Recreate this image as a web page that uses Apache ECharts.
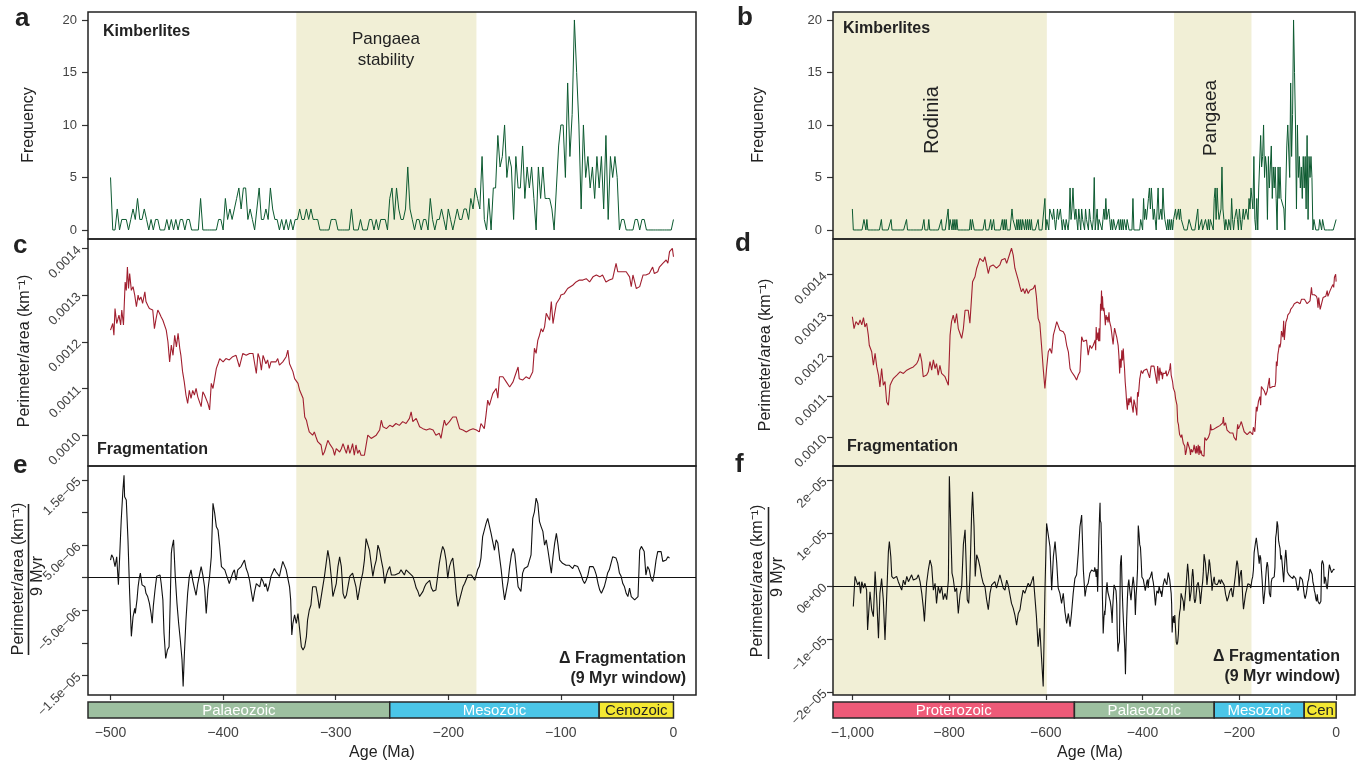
<!DOCTYPE html>
<html>
<head>
<meta charset="utf-8">
<title>Kimberlites and continental fragmentation</title>
<script src="https://cdn.jsdelivr.net/npm/echarts@6.0.0/dist/echarts.min.js"></script>
<style>
  html, body { margin: 0; padding: 0; background: #fff; }
  #chart { width: 1364px; height: 766px; }
</style>
</head>
<body>
<div id="chart"></div>
<script>
// kimberlite counts in 2 Myr bins, -1000 .. -502 Ma
var kimbOld = [
  2,0,0,0,0,0,0,0,0,0,  0,0,1,1,0,1,0,0,0,0,  0,0,0,0,0,0,0,0,0,0,  1,0,0,0,0,0,0,0,0,0,
  1,0,0,0,0,0,0,0,0,0,  0,0,0,0,0,0,1,0,0,0,  0,0,0,0,0,0,0,0,0,0,  0,0,0,0,1,0,0,0,0,1,
  0,0,0,0,0,0,0,0,0,0,  0,0,1,0,0,0,0,0,0,2,  0,1,1,0,1,0,1,0,1,0,  0,0,0,0,0,0,0,0,0,0,
  0,0,1,0,1,1,0,0,0,0,  0,0,0,0,0,0,0,1,0,0,  0,0,0,1,0,0,1,0,0,0,  0,0,0,0,0,1,0,1,0,1,
  0,0,0,0,0,2,1,1,1,0,  1,0,1,0,1,0,1,1,0,1,  0,1,0,1,0,1,0,0,0,0,  0,0,1,0,0,0,0,0,0,3,
  0,1,1,0,2,2,2,1,2,1,  0,1,2,1,1,2,1,0,1,1,  0,1,1,0,1,4,1,2,4,2,  1,2,1,0,2,1,0,2,1,1,
  0,2,1,1,0,2,1,1,0,1
];
// kimberlite counts in 2 Myr bins, -500 .. 0 Ma
var kimbYoung = [
  5,0,0,2,0,1,1,1,0,1,  2,1,3,1,1,2,1,0,1,0,  1,1,0,0,0,1,0,1,0,1,  0,1,1,0,1,1,0,0,0,0,
  3,0,0,0,0,0,0,0,1,1,  0,3,1,2,1,2,3,4,2,4,  4,1,2,1,0,2,4,1,1,2,  1,4,2,1,1,0,1,0,1,0,
  1,0,1,1,2,1,1,2,1,2,  1,1,1,0,0,0,0,0,1,1,  1,0,0,0,0,0,0,2,0,0,  0,1,0,0,0,1,1,0,1,0,
  1,1,1,0,3,4,1,4,2,1,  1,2,6,2,1,0,1,1,0,1,  1,0,3,1,0,1,1,2,1,0,  2,1,0,1,2,1,1,2,2,1,
  3,2,4,3,2,7,1,0,3,0,  4,4,9,6,7,10,5,7,6,1,  7,4,4,8,3,6,4,6,3,0,  6,3,6,3,3,3,2,0,4,8,
  10,10,5,14,7,11,20,15,10,2,  10,5,7,4,6,3,7,4,7,2,  9,1,7,5,7,5,0,1,1,0,  0,0,0,1,1,0,1,1,0,0,
  0,0,0,0,0,0,0,0,0,0,  1
];

// fragmentation, perimeter/area in units of 1e-4 km^-1, [age Ma, value]
var fragOld = [
  [-1000,12.96],[-996.5,12.67],[-992.5,12.84],[-987.5,12.76],[-984,12.88],[-980.5,12.76],[-977,12.94],[-974,12.71],
  [-970.5,12.80],[-967,12.51],[-965,12.26],[-962,12.26],[-960,12.10],[-956.5,11.77],[-953,12.06],[-949.5,11.73],
  [-946,11.53],[-943,11.24],[-939.5,11.69],[-936,11.28],[-932.5,11.37],[-929,10.87],[-925.5,10.79],[-922,11.28],
  [-918.5,11.37],[-915,11.45],[-908,11.53],[-901.5,11.61],[-894.5,11.57],[-887.5,11.65],[-881,11.69],[-874,11.73],
  [-867,11.81],[-863.5,11.90],[-860,12.06],[-856.5,11.86],[-853.5,11.49],[-850,11.53],[-846.5,11.53],[-843,11.61],
  [-839.5,11.86],[-836,11.65],[-832.5,11.90],[-829,11.69],[-826,11.81],[-822.5,11.53],[-819,11.77],[-815.5,11.57],
  [-812,11.61],[-808.5,11.49],[-805,11.53],[-801.5,11.28],[-798,12.51],[-795,12.84],[-791.5,13.00],[-788,12.80],
  [-784.5,13.04],[-781,12.67],[-777.5,12.55],[-774,12.43],[-770.5,12.67],[-767,13.12],[-764,13.08],[-760.5,13.12],
  [-757,12.80],[-753.5,12.80],[-751.5,13.82],[-746.5,13.94],[-743,14.15],[-739.5,14.27],[-736.5,14.39],[-733,14.43],
  [-729.5,14.31],[-726,14.43],[-722.5,14.23],[-719,14.02],[-715.5,14.19],[-709,14.23],[-702,14.15],[-695,14.23],
  [-691.5,14.35],[-688,14.31],[-684.5,14.39],[-681,14.27],[-674.5,14.51],[-671,14.64],[-667.5,14.47],[-664,14.15],
  [-660.5,14.19],[-657,13.86],[-653.5,13.69],[-650.5,13.57],[-647,13.65],[-643.5,13.53],[-640,13.65],[-636.5,13.53],
  [-633,13.61],[-629.5,13.57],[-626,13.65],[-622.5,13.74],[-619.5,13.45],[-616,12.92],[-612.5,12.80],[-609,12.26],
  [-605.5,11.69],[-602,11.20],[-598.5,11.69],[-595,12.10],[-591.5,12.18],[-588,12.06],[-584.5,12.51],[-581,12.67],
  [-577.5,12.84],[-574.5,12.88],[-571,12.63],[-564,12.59],[-560.5,12.51],[-557,12.26],[-553.5,12.10],[-550,11.69],
  [-547,11.61],[-543.5,11.57],[-540,11.49],[-536.5,11.41],[-533,11.53],[-529.5,11.61],[-526,12.47],[-522.5,12.35],
  [-519,12.31],[-516,12.39],[-512.5,12.02],[-509,12.26],[-505.5,12.18],[-502,12.26]
];
var fragYoung = [
  [-500,12.25],[-498,12.39],[-497,12.14],[-496,12.71],[-494.5,12.39],[-492.5,12.57],[-491,12.36],[-490,12.68],
  [-488.5,12.36],[-487,13.28],[-486,13.10],[-485,13.60],[-484,13.14],[-483,13.46],[-481.5,13.10],[-480,13.18],
  [-478.5,13.00],[-477,12.75],[-475.5,13.00],[-474.5,12.89],[-473,12.96],[-471.5,12.82],[-469.5,13.07],[-468.5,12.86],
  [-467,12.78],[-465.5,12.71],[-464,12.75],[-462.5,12.68],[-461,12.28],[-459.5,12.50],[-458,12.68],[-456.5,12.61],
  [-455,12.53],[-453.5,12.46],[-452,12.50],[-450.5,12.25],[-449,12.00],[-447.5,11.57],[-446,11.93],[-444.5,11.71],
  [-443,12.14],[-441.5,11.89],[-440,12.18],[-438.5,11.86],[-437.5,11.71],[-436,11.36],[-434.5,11.14],[-433,10.86],
  [-431.5,10.68],[-430,10.96],[-428.5,10.79],[-427,10.96],[-425.5,10.86],[-424,11.00],[-422.5,10.82],[-421,10.79],
  [-419.5,10.61],[-418,10.93],[-416.5,10.86],[-415,10.89],[-413.5,10.68],[-412,10.54],[-410.5,11.11],[-409,11.00],
  [-407.5,11.21],[-406,11.43],[-404.5,11.53],[-403,11.64],[-400,11.57],[-397.5,11.64],[-394.5,11.61],[-391.5,11.68],
  [-388.5,11.71],[-385.5,11.46],[-382.5,11.75],[-379.5,11.71],[-376.5,11.75],[-373.5,11.75],[-370.5,11.32],[-369,11.75],
  [-367.5,11.64],[-366,11.39],[-364.5,11.71],[-362,11.53],[-360.5,11.61],[-359,11.43],[-357.5,11.57],[-356,11.57],
  [-353,11.57],[-351.5,11.64],[-350,11.50],[-347,11.57],[-345.5,11.61],[-344,11.68],[-342.5,11.82],[-341,11.53],
  [-339.5,11.50],[-338,11.36],[-336.5,11.21],[-335,11.18],[-333.5,11.11],[-332,10.96],[-330.5,10.93],[-329,10.79],
  [-327.5,10.39],[-326,10.32],[-325,10.21],[-323.5,10.07],[-322,10.11],[-320.5,10.00],[-319,10.07],[-317.5,9.96],
  [-316,9.86],[-314.5,9.89],[-313,9.79],[-311.5,9.57],[-310,9.64],[-308.5,9.68],[-307,9.89],[-305.5,9.82],
  [-304,9.86],[-302.5,9.71],[-301,9.57],[-299.5,9.71],[-298,9.71],[-296.5,9.64],[-295,9.71],[-293.5,9.82],
  [-292,9.71],[-290.5,9.61],[-289,9.79],[-287.5,9.61],[-286.5,9.68],[-285,9.82],[-283.5,9.57],[-282,9.79],
  [-280.5,9.61],[-279,9.68],[-277.5,9.57],[-276,9.54],[-274.5,9.57],[-273,9.54],[-271.5,10.00],[-270,10.04],
  [-268.5,9.93],[-267,9.96],[-264,10.00],[-261,10.11],[-259.5,10.32],[-258,10.18],[-255,10.14],[-252,10.21],
  [-249.5,10.18],[-246.5,10.25],[-243.5,10.21],[-240.5,10.29],[-237.5,10.25],[-234.5,10.36],[-233,10.50],[-231.5,10.29],
  [-228.5,10.36],[-225.5,10.18],[-222.5,10.14],[-219.5,10.11],[-216.5,10.14],[-213.5,10.11],[-211,10.00],[-208,10.04],
  [-206.5,9.93],[-205,10.14],[-203.5,10.32],[-202,10.21],[-199,10.29],[-196,10.39],[-194.5,10.43],[-193,10.39],
  [-190,10.14],[-187,10.11],[-184,10.07],[-181,10.11],[-178,10.14],[-175,10.11],[-172.5,10.07],[-171,10.25],
  [-169.5,10.21],[-168,10.14],[-166.5,10.43],[-165,10.75],[-163.5,10.64],[-160.5,10.89],[-157.5,11.00],[-156,10.79],
  [-154.5,11.25],[-153,11.28],[-151.5,11.25],[-148.5,11.14],[-145.5,11.03],[-142.5,11.14],[-141,11.25],[-139.5,11.25],
  [-138,11.46],[-137,11.21],[-135.5,11.25],[-134,11.18],[-131,11.25],[-128,11.21],[-126.5,11.25],[-125,11.36],
  [-123.5,11.86],[-122,11.75],[-120.5,12.03],[-119,12.14],[-117.5,12.28],[-116,12.21],[-114.5,12.32],[-113,12.61],
  [-111.5,12.64],[-110,12.46],[-108.5,12.86],[-107,12.39],[-105.5,12.61],[-104,12.82],[-102.5,12.86],[-101,12.93],
  [-100,13.00],[-98.5,12.96],[-97,13.03],[-95.5,13.07],[-94,13.14],[-92.5,13.10],[-89.5,13.21],[-86.5,13.28],
  [-83.5,13.32],[-80.5,13.32],[-77.5,13.35],[-74.5,13.28],[-71.5,13.39],[-68.5,13.43],[-65.5,13.39],[-63,13.43],
  [-60,13.28],[-57,13.32],[-54,13.35],[-51,13.68],[-49.5,13.50],[-48,13.53],[-45,13.50],[-42,13.50],
  [-40.5,13.46],[-39,13.39],[-37.5,13.18],[-36,13.43],[-33,13.14],[-31.5,13.10],[-30,13.18],[-27,13.43],
  [-24.5,13.43],[-21.5,13.46],[-18.5,13.60],[-17,13.46],[-15.5,13.43],[-14,13.50],[-12.5,13.60],[-9.5,13.68],
  [-6.5,13.75],[-5,13.68],[-3.5,13.93],[-1,14.00],[0,13.82]
];

// change of fragmentation over a 9 Myr window, units of 1e-6 km^-1, [age Ma, value]
var dFragOld = [
  [-998,-3.9],[-994.5,1.8],[-992.5,1.8],[-989,0.2],[-985.5,0.8],[-983,-1.4],[-980.5,0.8],[-977,-0.4],
  [-974,0.5],[-970.5,-0.8],[-968.5,-8.3],[-965.5,-8.6],[-963.5,-1.1],[-960,-4.5],[-956.5,-5.8],[-953,2.7],
  [-949.5,-2.6],[-946,-9.9],[-943,-1.4],[-939.5,1.4],[-936,-2.6],[-932.5,-10.2],[-929,-2.0],[-925.5,6.5],
  [-923.5,8.4],[-920.5,5.5],[-918.5,1.8],[-915,1.4],[-912,1.1],[-908.5,1.8],[-905,0.8],[-901.5,1.1],
  [-898,-0.8],[-894.5,1.1],[-891,0.2],[-887.5,1.8],[-884,0.8],[-881,1.1],[-877.5,2.1],[-874,1.1],
  [-870.5,1.1],[-867,1.4],[-863.5,2.1],[-860,0.8],[-856.5,-1.4],[-853.5,-3.9],[-851,-6.7],[-848.5,-2.6],
  [-846.5,0.5],[-843,3.0],[-839.5,4.9],[-836,3.7],[-832.5,-0.8],[-829,0.5],[-826,-3.3],[-822.5,-0.1],
  [-819,-1.4],[-815.5,-0.1],[-812,-2.6],[-808.5,-1.4],[-805,-2.6],[-801.5,1.1],[-799.5,20.7],[-797,12.5],
  [-794,2.4],[-791.5,1.4],[-788,-1.1],[-784.5,-0.4],[-781,-5.2],[-777.5,-1.7],[-774,-0.1],[-770.5,7.8],
  [-767,10.6],[-765,4.9],[-762.5,-2.6],[-759.5,-3.3],[-757,1.4],[-753.5,13.7],[-751.5,17.8],[-748.5,11.2],
  [-746,1.8],[-743,5.9],[-739.5,4.9],[-736.5,3.7],[-733,1.8],[-729.5,0.5],[-726,-0.1],[-722.5,-2.6],
  [-719,-4.5],[-715.5,-1.4],[-712,0.2],[-709,0.5],[-705.5,0.8],[-702,-0.4],[-698.5,-0.1],[-695,2.1],
  [-691.5,2.4],[-688,-0.4],[-684.5,-0.8],[-681,1.1],[-678,0.2],[-674.5,-0.1],[-671,-3.3],[-667.5,-4.2],
  [-664,-5.5],[-660.5,-7.4],[-657,-5.2],[-653.5,-4.5],[-650.5,-2.6],[-647,-0.8],[-643.5,-1.4],[-640,-0.4],
  [-636.5,0.5],[-633,-0.1],[-629.5,0.8],[-626,1.8],[-622.5,2.1],[-619.5,-5.8],[-616,-11.5],[-612.5,-8.0],
  [-609,-8.3],[-605.5,-19.0],[-602,-1.4],[-598.5,11.8],[-591.5,7.4],[-588,-0.8],[-584.5,5.5],[-581,8.4],
  [-577.5,4.3],[-574.5,-0.4],[-571,-1.4],[-567.5,-3.3],[-564,-1.4],[-560.5,-4.9],[-557,-7.1],[-553.5,-5.2],
  [-550,-7.7],[-547,-5.2],[-543.5,-1.4],[-540,1.4],[-536.5,2.1],[-533,6.2],[-529.5,11.2],[-526,13.4],
  [-522.5,3.0],[-519,-2.0],[-516,-0.1],[-512.5,0.5],[-509,2.4],[-505.5,3.0],[-502,3.0]
];
var dFragYoung = [
  [-500,2.7],[-499,3.5],[-497.5,3.0],[-496,1.7],[-494.5,3.2],[-493,-1.1],[-492,2.7],[-490.5,8.8],
  [-489,13.4],[-488,15.7],[-487.5,12.4],[-486,11.9],[-484.5,5.8],[-483,-2.4],[-481.5,-9.0],[-480,-6.0],
  [-478.5,-4.7],[-478,-5.5],[-476.5,-3.4],[-475.5,-1.4],[-474.5,-0.1],[-473.5,0.7],[-472,-1.1],[-470.5,-0.9],
  [-469.5,-1.4],[-468.5,-2.4],[-467,-2.9],[-465.5,-3.9],[-464,-5.5],[-463,-7.0],[-462,-4.4],[-460.5,-1.9],
  [-459,0.2],[-457.5,0.4],[-456,0.4],[-455,-0.9],[-453.5,-3.4],[-452.5,-8.5],[-451,-12.4],[-449.5,-11.1],
  [-448,-10.6],[-447,-3.9],[-446,3.7],[-445.5,4.5],[-444,5.8],[-442.5,0.2],[-441,-3.9],[-439.5,-7.0],
  [-438,-9.6],[-436.5,-12.6],[-435.5,-16.7],[-434.5,-12.1],[-433,-6.5],[-431.5,-2.4],[-430,0.2],[-428.5,1.2],
  [-427,-0.4],[-425.5,-1.6],[-424,-2.7],[-422.5,-0.9],[-421,0.4],[-419.5,1.7],[-418,0.4],[-416.5,-1.4],
  [-415,-5.5],[-413.5,-1.9],[-412,0.2],[-410.5,3.2],[-409,11.4],[-407.5,9.9],[-406,7.8],[-404.5,7.3],
  [-403,4.8],[-401.5,1.7],[-400,1.4],[-398.5,1.2],[-397,0.4],[-396,0.7],[-394.5,-0.9],[-393,-0.6],
  [-391.5,0.7],[-390,1.2],[-388.5,-0.4],[-387,1.2],[-385.5,0.9],[-384,1.7],[-382.5,2.2],[-381,2.7],
  [-379.5,1.4],[-378,0.7],[-376.5,-0.4],[-375,-2.1],[-373.5,-3.7],[-372,-2.1],[-370.5,-0.9],[-369,-0.6],
  [-367.5,-1.4],[-366,-0.1],[-364.5,-0.6],[-363,-1.4],[-362,-0.9],[-360.5,-2.1],[-359,-1.1],[-357.5,0.2],
  [-356,0.4],[-354.5,1.4],[-353,0.9],[-351.5,0.7],[-350,0.2],[-348.5,1.4],[-347,2.5],[-345.5,2.2],
  [-344,1.2],[-342.5,-0.1],[-341,-1.4],[-340,-3.4],[-339,-8.8],[-338,-7.0],[-336.5,-5.7],[-335,-7.0],
  [-333.5,-5.5],[-332,-8.0],[-330.5,-10.6],[-329,-11.1],[-327.5,-10.6],[-326,-9.0],[-325,-6.5],[-323.5,-5.0],
  [-322,-4.2],[-320.5,-1.4],[-319,-1.1],[-317.5,-1.4],[-316,-2.9],[-314.5,-4.7],[-313,-4.4],[-311.5,-1.4],
  [-310,0.2],[-308.5,2.2],[-307,4.2],[-305.5,2.7],[-304,0.2],[-302.5,-2.9],[-301,-3.2],[-299.5,-0.9],
  [-298,1.7],[-296.5,3.2],[-295,1.7],[-293.5,-2.4],[-292,-3.2],[-290.5,-2.7],[-289,-2.4],[-287.5,0.2],
  [-286.5,0.2],[-285,0.7],[-283.5,0.4],[-282,-1.4],[-280.5,-3.4],[-279,-1.9],[-277.5,-0.4],[-276,0.7],
  [-274.5,2.7],[-273,6.0],[-271.5,5.8],[-270,4.2],[-268.5,2.2],[-267,0.2],[-265.5,1.7],[-264,2.7],
  [-262.5,5.0],[-261,4.2],[-259.5,2.7],[-258,1.4],[-256.5,-0.9],[-255,0.4],[-253.5,1.2],[-252,1.7],
  [-250.5,0.4],[-249,0.2],[-247.5,0.4],[-246,0.2],[-243.5,0.7],[-242,1.2],[-240.5,1.0],[-239,0.4],
  [-237.5,1.2],[-236,0.9],[-234.5,0.7],[-233,0.4],[-231.5,0.2],[-230,-0.6],[-228.5,-1.6],[-227,-2.1],
  [-225.5,-2.9],[-224,-2.7],[-222.5,-2.1],[-221,-1.4],[-219.5,-0.9],[-218,-0.6],[-216.5,-0.4],[-215,-1.6],
  [-213.5,-2.1],[-212.5,-1.9],[-211,-1.9],[-209.5,-1.9],[-208,2.2],[-206.5,3.7],[-205,4.8],[-203.5,4.2],
  [-202,2.7],[-200.5,-0.1],[-199,1.7],[-197.5,2.5],[-196,3.0],[-194.5,0.7],[-193,-2.4],[-191.5,-4.4],
  [-190,-4.2],[-188.5,-2.4],[-187,-1.4],[-185.5,-0.9],[-184,-0.6],[-182.5,0.4],[-181,0.7],[-179.5,0.4],
  [-178,0.2],[-176.5,-0.4],[-175,-0.6],[-174,1.2],[-172.5,1.7],[-171,3.0],[-169.5,6.3],[-168,7.3],
  [-166.5,8.3],[-165,9.1],[-163.5,9.1],[-162,6.8],[-160.5,5.5],[-159,4.2],[-157.5,5.8],[-156,5.3],
  [-154.5,3.2],[-153,1.2],[-151.5,-1.4],[-150,-3.4],[-148.5,-3.4],[-147,-0.6],[-145.5,1.7],[-144,3.5],
  [-142.5,4.5],[-141,3.7],[-139.5,1.2],[-138,-1.4],[-137,-1.6],[-135.5,-2.1],[-134,0.7],[-132.5,1.4],
  [-131,1.2],[-129.5,1.7],[-128,1.7],[-126.5,3.5],[-125,9.1],[-123.5,10.1],[-122,12.2],[-120.5,11.4],
  [-119,8.6],[-117.5,7.8],[-116,7.1],[-114.5,5.0],[-113,5.8],[-111.5,4.2],[-110,4.0],[-108.5,0.7],
  [-107,3.2],[-105.5,5.3],[-104,6.8],[-102.5,5.0],[-101,2.7],[-100,3.0],[-98.5,2.2],[-97,2.2],
  [-95.5,1.9],[-94,1.7],[-92.5,1.9],[-91,1.7],[-89.5,1.4],[-88,1.9],[-86.5,2.2],[-85,1.7],
  [-83.5,1.4],[-82,0.4],[-80.5,-0.4],[-79,-0.9],[-77.5,-0.4],[-76,0.4],[-74.5,1.7],[-73,1.9],
  [-71.5,1.7],[-70,1.2],[-68.5,0.4],[-67,-0.9],[-65.5,-1.9],[-64,-2.4],[-63,-2.1],[-61.5,-1.4],
  [-60,-0.4],[-58.5,0.7],[-57,1.2],[-55.5,0.9],[-54,3.2],[-52.5,3.2],[-51,3.0],[-49.5,2.2],
  [-48,0.7],[-46.5,0.2],[-45,-0.9],[-43.5,-1.4],[-42,-2.4],[-40.5,-2.9],[-39,-1.6],[-37.5,-2.9],
  [-36,-3.2],[-34.5,-3.4],[-33,-3.7],[-31.5,-2.9],[-30,4.2],[-28.5,4.8],[-27,4.8],[-26,4.0],
  [-24.5,0.4],[-23,1.7],[-21.5,1.2],[-20,-0.1],[-18.5,-0.6],[-17,0.7],[-15.5,2.7],[-14,4.0],
  [-12.5,4.2],[-11,4.0],[-9.5,2.5],[-8,2.2],[-6.5,2.7],[-5,3.2],[-3.5,3.0]
];

// supercontinent intervals (Ma)
var shadeLeft = [[-335, -175]];
var shadeRight = [[-1040, -598], [-335, -175]];

// geological eras (Ma)
var eraNames = ['Proterozoic', 'Palaeozoic', 'Mesozoic', 'Cenozoic'];
var eraShort = ['Prot', 'Pal', 'Meso', 'Cen'];
var eraStart = [-2500, -541, -252, -66];
var eraEnd = [-541, -252, -66, 0];

// tick positions
var ageTicksLeft = [-500, -400, -300, -200, -100, 0];
var ageTicksRight = [-1000, -800, -600, -400, -200, 0];
var freqTicks = [0, 5, 10, 15, 20];
var fragTicksC = [0.0010, 0.0011, 0.0012, 0.0013, 0.0014];
var dTicksE = [-1.5e-5, -1e-5, -5e-6, 0, 5e-6, 1e-5, 1.5e-5];
var dLabelsE = [-1.5e-5, -5e-6, 5e-6, 1.5e-5];
var dTicksF = [-2e-5, -1e-5, 0, 1e-5, 2e-5];

var FONT = '"Liberation Sans", Arial, Helvetica, sans-serif';
var SHADE = '#f1efd6';
var eraFill = ['#ee5a78', '#9dc0a0', '#4bc6e8', '#f4e832'];
var eraInk = ['#ffffff', '#ffffff', '#ffffff', '#222222'];

function binned(start, vals) {
  return vals.map(function (v, i) { return [start + 2 * i, v]; });
}
function scaled(pairs, k) {
  return pairs.map(function (p) { return [p[0], p[1] * k]; });
}
var kimbA = binned(-500, kimbYoung);
var kimbB = binned(-1000, kimbOld).concat(kimbA);
var fragA = scaled(fragYoung, 1e-4);
var fragB = scaled(fragOld, 1e-4).concat(fragA);
var dA = scaled(dFragYoung, 1e-6);
var dB = scaled(dFragOld, 1e-6).concat(dA);

function ageLabel(v) {
  if (v === 0) return '0';
  return '\u2212' + Math.abs(v).toLocaleString('en-US');
}
function sci(d) {
  return function (v) {
    var parts = Math.abs(v).toExponential(d).split('e');
    var e = parseInt(parts[1], 10);
    return (v < 0 ? '\u2212' : '') + parts[0] + 'e' + (e < 0 ? '\u2212' : '+') + (Math.abs(e) < 10 ? '0' : '') + Math.abs(e);
  };
}

var chart = echarts.init(document.getElementById('chart'));

// panels: 0 a, 1 c, 2 e, 3 b, 4 d, 5 f ; 6,7 era bars
var cols = [{ x: 88, w: 608, range: [-520, 20], ticks: ageTicksLeft }, { x: 833, w: 522, range: [-1040, 39], ticks: ageTicksRight }];
var rows = [{ top: 12, h: 227 }, { top: 239, h: 227 }, { top: 466, h: 229 }];

var grid = [], xAxis = [], yAxis = [];
cols.forEach(function (col) {
  rows.forEach(function (row, r) {
    var gi = grid.length;
    grid.push({ left: col.x, top: row.top, width: col.w, height: row.h, show: true, borderColor: '#222', borderWidth: 1.5, backgroundColor: 'transparent', z: 3 });
    var bottom = r === 2;
    xAxis.push({
      type: 'value', gridIndex: gi, min: col.range[0], max: col.range[1], position: 'bottom',
      axisLine: { show: false, onZero: false }, splitLine: { show: false },
      axisTick: { show: bottom, length: 5, customValues: col.ticks, lineStyle: { color: '#333', width: 1.2 } },
      axisLabel: { show: bottom, customValues: col.ticks, margin: 31, formatter: ageLabel, color: '#444', fontSize: 14, fontFamily: FONT }
    });
  });
});
cols.forEach(function (col) {
  var gi = grid.length;
  grid.push({ left: col.x, top: 702, width: col.w, height: 16, show: false });
  xAxis.push({ type: 'value', gridIndex: gi, min: col.range[0], max: col.range[1], show: false });
});

function yAx(gi, min, max, ticks, labels, fmt, rotate, margin) {
  return {
    type: 'value', gridIndex: gi, min: min, max: max, position: 'left',
    axisLine: { show: false, onZero: false }, splitLine: { show: false },
    axisTick: { show: true, length: 6, customValues: ticks, lineStyle: { color: '#333', width: 1.2 } },
    axisLabel: { customValues: labels, formatter: fmt, rotate: rotate, margin: margin, color: '#444', fontSize: 13, fontFamily: FONT }
  };
}
var fix4 = function (v) { return v.toFixed(4); };
var plain = function (v) { return String(v); };
yAxis.push(yAx(0, -0.86, 20.76, freqTicks, freqTicks, plain, 0, 11));
yAxis.push(yAx(1, 0.000934, 0.00142, fragTicksC, fragTicksC, fix4, 45, 9));
yAxis.push(yAx(2, -1.8e-5, 1.713e-5, dTicksE, dLabelsE, sci(1), 45, 9));
yAxis.push(yAx(3, -0.86, 20.76, freqTicks, freqTicks, plain, 0, 11));
yAxis.push(yAx(4, 0.00093, 0.0014866, fragTicksC, fragTicksC, fix4, 45, 8));
yAxis.push(yAx(5, -2.06e-5, 2.265e-5, dTicksF, dTicksF, sci(0), 45, 8));
yAxis.push({ type: 'value', gridIndex: 6, min: 0, max: 1, show: false });
yAxis.push({ type: 'value', gridIndex: 7, min: 0, max: 1, show: false });

function lineSeries(gi, data, color, width, shades, zero) {
  var s = {
    type: 'line', xAxisIndex: gi, yAxisIndex: gi, data: data,
    showSymbol: false, symbol: 'none', silent: true, z: 2,
    lineStyle: { color: color, width: width }, itemStyle: { color: color },
    emphasis: { disabled: true },
    markArea: {
      silent: true, itemStyle: { color: SHADE },
      data: shades.map(function (r) { return [{ xAxis: r[0] }, { xAxis: r[1] }]; })
    }
  };
  if (zero) {
    s.markLine = { silent: true, symbol: 'none', label: { show: false }, lineStyle: { color: '#111', width: 1, type: 'solid' }, data: [{ yAxis: 0 }] };
  }
  return s;
}

function eraSeries(gi) {
  return {
    type: 'custom', xAxisIndex: gi, yAxisIndex: gi, silent: true,
    data: eraNames.map(function (n, i) { return [eraStart[i], eraEnd[i], i]; }),
    encode: { x: [0, 1] },
    renderItem: function (params, api) {
      var cs = params.coordSys;
      var i = api.value(2);
      var x0 = Math.max(api.coord([api.value(0), 0])[0], cs.x);
      var x1 = api.coord([api.value(1), 0])[0];
      if (x1 <= cs.x + 1) return null;
      var w = x1 - x0;
      var name = w > 70 ? eraNames[i] : eraShort[i];
      return {
        type: 'group', children: [
          { type: 'rect', shape: { x: x0, y: cs.y, width: w, height: cs.height }, style: { fill: eraFill[i], stroke: '#2a2a2a', lineWidth: 1.5 } },
          { type: 'text', x: x0 + w / 2, y: cs.y + cs.height / 2 + 1, style: { text: name, fill: eraInk[i], font: '15px ' + FONT, align: 'center', verticalAlign: 'middle' } }
        ]
      };
    }
  };
}

var GREEN = '#0c5a30', RED = '#a11f2f', INK = '#111111';
var series = [
  lineSeries(0, kimbA, GREEN, 1, shadeLeft, false),
  lineSeries(1, fragA, RED, 1.1, shadeLeft, false),
  lineSeries(2, dA, INK, 1.1, shadeLeft, true),
  lineSeries(3, kimbB, GREEN, 1, shadeRight, false),
  lineSeries(4, fragB, RED, 1.1, shadeRight, false),
  lineSeries(5, dB, INK, 1.1, shadeRight, true),
  eraSeries(6),
  eraSeries(7)
];

function txt(x, y, text, font, opt) {
  opt = opt || {};
  return {
    type: 'text', x: x, y: y, rotation: opt.rot || 0, z: 20,
    style: { text: text, font: font, fill: opt.fill || '#222', align: opt.align || 'left', verticalAlign: 'middle', lineHeight: opt.lh }
  };
}
var LETTER = 'bold 26px ' + FONT;
var BOLD = 'bold 16px ' + FONT;
var NAME = '16px ' + FONT;
var V = Math.PI / 2;
var graphic = [
  txt(15, 19, 'a', LETTER), txt(737, 18, 'b', LETTER),
  txt(13, 246, 'c', LETTER), txt(735, 244, 'd', LETTER),
  txt(13, 466, 'e', LETTER), txt(735, 465, 'f', LETTER),

  txt(103, 32, 'Kimberlites', BOLD), txt(843, 29, 'Kimberlites', BOLD),
  txt(386, 50, 'Pangaea\nstability', '17px ' + FONT, { align: 'center', lh: 21 }),
  txt(932, 120, 'Rodinia', '20px ' + FONT, { align: 'center', rot: V }),
  txt(1211, 118, 'Pangaea', '19px ' + FONT, { align: 'center', rot: V }),
  txt(97, 450, 'Fragmentation', BOLD), txt(847, 447, 'Fragmentation', BOLD),
  txt(686, 669, '\u0394 Fragmentation\n(9 Myr window)', BOLD, { align: 'right', lh: 20 }),
  txt(1340, 667, '\u0394 Fragmentation\n(9 Myr window)', BOLD, { align: 'right', lh: 20 }),

  txt(29, 125, 'Frequency', NAME, { align: 'center', rot: V }),
  txt(759, 125, 'Frequency', NAME, { align: 'center', rot: V }),
  txt(25, 351, 'Perimeter/area (km\u207B\u00B9)', NAME, { align: 'center', rot: V }),
  txt(766, 355, 'Perimeter/area (km\u207B\u00B9)', NAME, { align: 'center', rot: V }),
  txt(19, 579, 'Perimeter/area (km\u207B\u00B9)', NAME, { align: 'center', rot: V }),
  { type: 'line', z: 20, shape: { x1: 28.5, y1: 504, x2: 28.5, y2: 655 }, style: { stroke: '#222', lineWidth: 1.6 } },
  txt(38, 576, '9 Myr', NAME, { align: 'center', rot: V }),
  txt(758, 581, 'Perimeter/area (km\u207B\u00B9)', NAME, { align: 'center', rot: V }),
  { type: 'line', z: 20, shape: { x1: 768.5, y1: 507, x2: 768.5, y2: 659 }, style: { stroke: '#222', lineWidth: 1.6 } },
  txt(778, 577, '9 Myr', NAME, { align: 'center', rot: V }),

  txt(382, 753, 'Age (Ma)', NAME, { align: 'center' }),
  txt(1090, 753, 'Age (Ma)', NAME, { align: 'center' })
];

chart.setOption({
  animation: false,
  backgroundColor: '#ffffff',
  textStyle: { fontFamily: FONT },
  grid: grid,
  xAxis: xAxis,
  yAxis: yAxis,
  series: series,
  graphic: graphic
});
</script>
</body>
</html>
